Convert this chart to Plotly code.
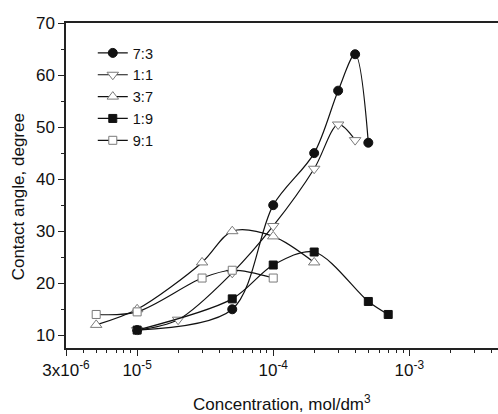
import plotly.graph_objects as go

# ---- data ----
x_73 = [1e-5, 5e-5, 1e-4, 2e-4, 3e-4, 4e-4, 5e-4]
y_73 = [11, 15, 35, 45, 57, 64, 47]

x_11 = [1e-5, 2e-5, 5e-5, 1e-4, 2e-4, 3e-4, 4e-4]
y_11 = [11, 13, 22, 31, 42, 50.5, 47.5]

x_37 = [5e-6, 1e-5, 3e-5, 5e-5, 1e-4, 2e-4]
y_37 = [12, 15, 24, 30, 29, 24]

x_19 = [1e-5, 5e-5, 1e-4, 2e-4, 5e-4, 7e-4]
y_19 = [11, 17, 23.5, 26, 16.5, 14]

x_91 = [5e-6, 1e-5, 3e-5, 5e-5, 1e-4]
y_91 = [14, 14.5, 21, 22.5, 21]

x_tickvals = [3e-6, 1e-5, 1e-4, 1e-3]
x_ticktext = ["3x10<sup>-6</sup>", "10<sup>-5</sup>", "10<sup>-4</sup>", "10<sup>-3</sup>"]
x_minor = [4e-6, 5e-6, 6e-6, 7e-6, 8e-6, 9e-6,
           2e-5, 3e-5, 4e-5, 5e-5, 6e-5, 7e-5, 8e-5, 9e-5,
           2e-4, 3e-4, 4e-4, 5e-4, 6e-4, 7e-4, 8e-4, 9e-4,
           2e-3, 3e-3, 4e-3]
y_tickvals = [10, 20, 30, 40, 50, 60, 70]
y_minor = [15, 25, 35, 45, 55, 65]

FONT = "Liberation Sans, Arial, sans-serif"
LINE = "#111111"
OPEN = "#7a7a7a"

series = [
    ("7:3", x_73, y_73, "circle", 9, LINE, LINE),
    ("1:1", x_11, y_11, "triangle-down", 10, "white", OPEN),
    ("3:7", x_37, y_37, "triangle-up", 10, "white", OPEN),
    ("1:9", x_19, y_19, "square", 8, LINE, LINE),
    ("9:1", x_91, y_91, "square", 8, "white", OPEN),
]

fig = go.Figure()
for name, xs, ys, sym, size, fill, edge in series:
    fig.add_trace(go.Scatter(
        x=xs, y=ys, name=name, mode="lines+markers",
        line=dict(color=LINE, width=1.2, shape="spline", smoothing=0.9),
        marker=dict(symbol=sym, size=size, color=fill,
                    line=dict(color=edge, width=1)),
    ))

fig.update_layout(
    width=498, height=414,
    margin=dict(l=66, r=0, t=23, b=66),
    paper_bgcolor="white", plot_bgcolor="white",
    font=dict(family=FONT, size=17, color="#111"),
    showlegend=True,
    legend=dict(x=0.062, y=0.957, xanchor="left", yanchor="top",
                bgcolor="rgba(0,0,0,0)", font=dict(size=14.5),
                tracegroupgap=0),
)

fig.update_xaxes(
    type="log", range=[-5.5229, -2.348],
    showline=True, linecolor="#222", linewidth=1.5, mirror=True,
    showgrid=False, zeroline=False,
    ticks="outside", ticklen=6, tickwidth=1.2, tickcolor="#222",
    tickvals=x_tickvals, ticktext=x_ticktext,
    tickfont=dict(size=17),
    minor=dict(tickvals=x_minor, ticks="outside", ticklen=3,
               tickwidth=1.2, tickcolor="#222", showgrid=False),
)
fig.update_yaxes(
    range=[7.56, 70],
    showline=True, linecolor="#222", linewidth=1.5, mirror=False,
    showgrid=False, zeroline=False,
    ticks="outside", ticklen=6, tickwidth=1.2, tickcolor="#222",
    tickvals=y_tickvals, tickfont=dict(size=17),
    minor=dict(tickvals=y_minor, ticks="outside", ticklen=3,
               tickwidth=1.2, tickcolor="#222", showgrid=False),
)

fig.add_annotation(text="Concentration, mol/dm<sup>3</sup>",
                   xref="paper", yref="paper", x=0.5, y=-0.128,
                   xanchor="center", yanchor="top", showarrow=False,
                   font=dict(size=17))
fig.add_annotation(text="Contact angle, degree",
                   xref="paper", yref="paper", x=-0.11, y=0.465,
                   xanchor="center", yanchor="middle", textangle=-90,
                   showarrow=False, font=dict(size=17))

fig.write_html("out.html", config={"displayModeBar": False})

# remove the default page margin so the figure sits at the window origin
with open("out.html", "r", encoding="utf-8") as f:
    html = f.read()
html = html.replace("<head>", "<head><style>html,body{margin:0;padding:0;overflow:hidden}</style>", 1)
with open("out.html", "w", encoding="utf-8") as f:
    f.write(html)
